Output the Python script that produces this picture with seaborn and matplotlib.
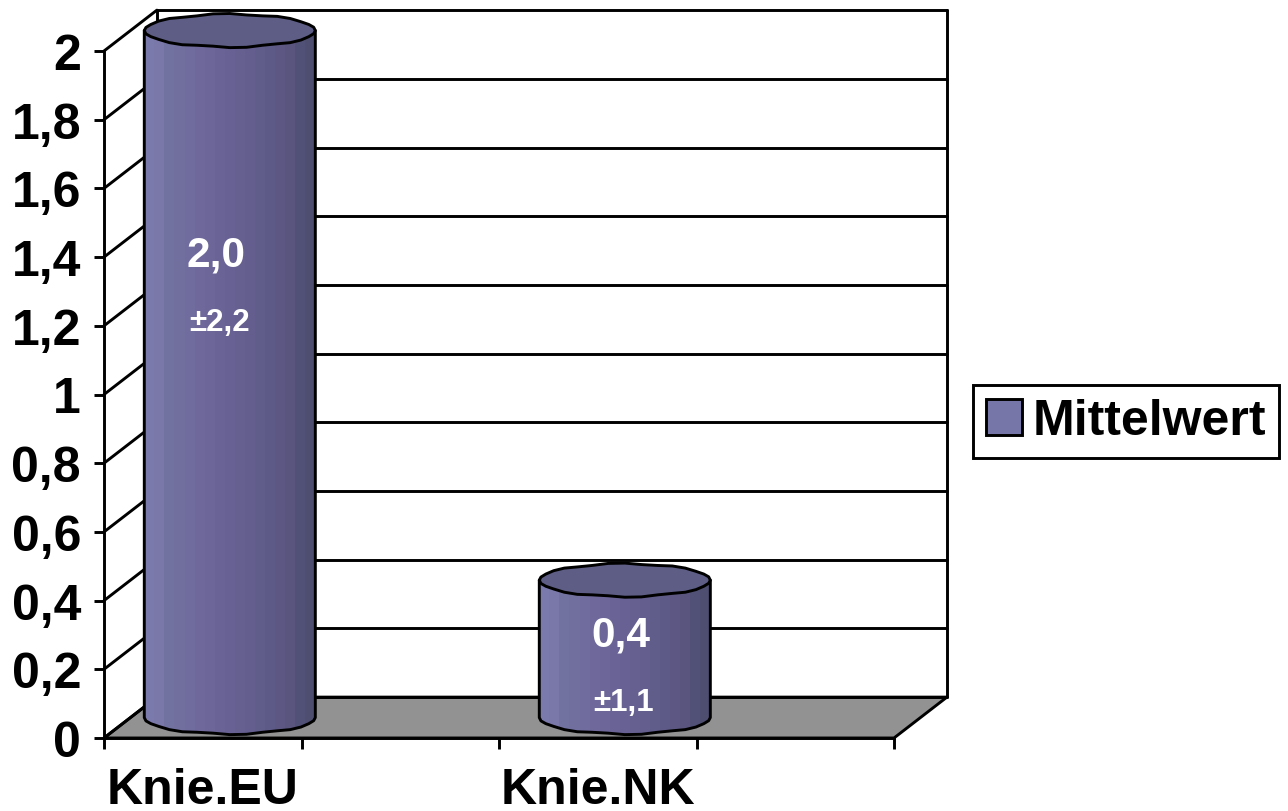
import numpy as np
import pandas as pd
import matplotlib
matplotlib.use("Agg")
import matplotlib.pyplot as plt
import seaborn as sns
from matplotlib.patches import Polygon

categories = ["Knie.EU", "", "Knie.NK", " "]
means = [2.0, np.nan, 0.4, np.nan]
mean_labels = ["2,0", "", "0,4", ""]
sd_labels = ["±2,2", "", "±1,1", ""]
y_ticks = [0, 0.2, 0.4, 0.6, 0.8, 1.0, 1.2, 1.4, 1.6, 1.8, 2.0]
y_tick_labels = ["0", "0,2", "0,4", "0,6", "0,8", "1", "1,2", "1,4", "1,6", "1,8", "2"]
series_name = "Mittelwert"

W, H, DPI = 1288, 812, 100
sns.set_theme(style="ticks")
plt.rcParams["font.family"] = ["Liberation Sans", "DejaVu Sans"]
plt.rcParams["font.weight"] = "bold"

fig = plt.figure(figsize=(W / DPI, H / DPI), dpi=DPI, facecolor="white")
L, R, T, B = 104, 894, 52, 739
ax = fig.add_axes([L / W, 1 - B / H, (R - L) / W, (B - T) / H])
ax.set_facecolor("none")

LW = 2.1
df = pd.DataFrame({"cat": categories, "val": means})
sns.barplot(data=df, x="cat", y="val", order=categories, color="#7676A8", saturation=1,
            width=0.866, errorbar=None, label=series_name, ax=ax, zorder=5)

ax.set_xlim(-0.5, 3.5)
ax.set_ylim(0, 2)
ax.set_xlabel("")
ax.set_ylabel("")

# 3-D depth, in data units
dx, dy = 0.268, 0.119
x0, x1 = -0.5, 3.5

# floor
ax.add_patch(Polygon([(x0, 0), (x0 + dx, dy), (x1 + dx, dy), (x1, 0)], closed=True,
                     facecolor="#929292", edgecolor="black", lw=LW, clip_on=False, zorder=1))
# back wall and side wall
for y in y_ticks:
    ax.plot([x0 + dx, x1 + dx], [y + dy, y + dy], color="black", lw=LW, clip_on=False, zorder=2)
    ax.plot([x0, x0 + dx], [y, y + dy], color="black", lw=LW, clip_on=False, zorder=2)
for x in (x0 + dx, x1 + dx):
    ax.plot([x, x], [dy, 2 + dy], color="black", lw=LW, clip_on=False, zorder=2)

# ticks
ax.set_yticks(y_ticks, labels=y_tick_labels)
ax.set_xticks([-0.5, 0.5, 1.5, 2.5, 3.5], labels=[])
ax.set_xticks([0, 2], labels=[categories[0], categories[2]], minor=True)
ax.tick_params(axis="y", length=7.5, width=LW, pad=9, labelsize=36, color="black")
ax.tick_params(axis="x", which="major", length=8, width=LW, color="black")
ax.tick_params(axis="x", which="minor", length=0, pad=21, labelsize=36)
for lab in ax.get_yticklabels() + ax.get_xticklabels(minor=True):
    lab.set_fontweight("bold")
    lab.set_color("black")
sns.despine(ax=ax)
for s in ("left", "bottom"):
    ax.spines[s].set_linewidth(LW)
    ax.spines[s].set_color("black")
    ax.spines[s].set_zorder(3)

# cylinders built on the bars that seaborn drew
stops_x = [0, 0.12, 0.14, 0.3, 0.5, 0.7, 0.88, 0.9, 1]
stops_c = np.array([[0x7B, 0x7B, 0xAD], [0x7A, 0x76, 0xA8], [0x72, 0x72, 0xA0], [0x70, 0x6A, 0x9C],
                    [0x68, 0x62, 0x94], [0x60, 0x5C, 0x8A], [0x58, 0x54, 0x7C], [0x52, 0x52, 0x78],
                    [0x4C, 0x4C, 0x6E]]) / 255
n_bands = 17
t = (np.arange(n_bands) + 0.5) / n_bands
rgb = np.stack([np.interp(t, stops_x, stops_c[:, i]) for i in range(3)], axis=1)[None, :, :]

ry = 0.048
n_pts = 32
theta = np.linspace(0, 2 * np.pi, n_pts + 1)[:-1]
wob = 1 + 0.035 * np.where(np.arange(n_pts) % 4 < 2, 1, -1)

bars = [p for p in ax.patches if p.get_zorder() == 5 and np.isfinite(p.get_height()) and p.get_height() > 0]
for bar in bars:
    w = bar.get_width()
    cx = bar.get_x() + w / 2 + dx / 2 + 0.003
    v = bar.get_height()
    base = dy / 2
    top = v + base
    ex = cx + w / 2 * np.cos(theta)
    ey_unit = ry * np.sin(theta) * wob
    sel = ey_unit <= 0
    order = np.argsort(ex[sel])
    low = np.column_stack([ex[sel][order], ey_unit[sel][order] + base])
    left, right = cx - w / 2, cx + w / 2
    body = np.vstack([[left, top], [left, base], low, [right, base], [right, top]])
    bar.set_visible(False)
    edges = np.linspace(left, right, n_bands + 1)
    mesh = ax.pcolormesh(edges, [base - 2 * ry, top], rgb, zorder=4, shading="flat")
    clip = Polygon(body, closed=True, transform=ax.transData, facecolor="none", edgecolor="black",
                   lw=LW, clip_on=False, zorder=4.5, joinstyle="round")
    ax.add_patch(clip)
    mesh.set_clip_box(fig.bbox)
    mesh.set_clip_path(clip)
    ax.add_patch(Polygon(np.column_stack([ex, ey_unit + top]), closed=True, facecolor="#5D5D86",
                         edgecolor="black", lw=LW, clip_on=False, zorder=5, joinstyle="round"))

# value texts: pixel offsets from the head of each bar
offs = {0: ((13, -204), (17, -271)), 2: ((23, -34), (26, -101))}
for i, v in enumerate(means):
    if not np.isfinite(v):
        continue
    (a, b), (c, d) = offs[i]
    ax.annotate(mean_labels[i], xy=(i, v), xytext=(a, b), textcoords="offset pixels", ha="center",
                va="center", color="white", fontsize=30.5, fontweight="bold", zorder=6)
    ax.annotate(sd_labels[i], xy=(i, v), xytext=(c, d), textcoords="offset pixels", ha="center",
                va="center", color="white", fontsize=22.5, fontweight="bold", zorder=6)

# legend
handles, labels = ax.get_legend_handles_labels()
leg = ax.legend(handles, labels, loc="center", bbox_to_anchor=(1126 / W, 1 - 422.5 / H),
                bbox_transform=fig.transFigure, frameon=True, fancybox=False, framealpha=1,
                edgecolor="black", fontsize=36, handlelength=0.72, handleheight=0.72,
                handletextpad=0.2, borderpad=0.27, borderaxespad=0, labelcolor="black")
leg.get_frame().set_linewidth(LW)
for h in leg.legend_handles:
    h.set_edgecolor("black")
    h.set_linewidth(LW)
    h.set_visible(True)
for txt in leg.get_texts():
    txt.set_fontweight("bold")

fig.savefig("out.png", dpi=DPI, facecolor="white")
